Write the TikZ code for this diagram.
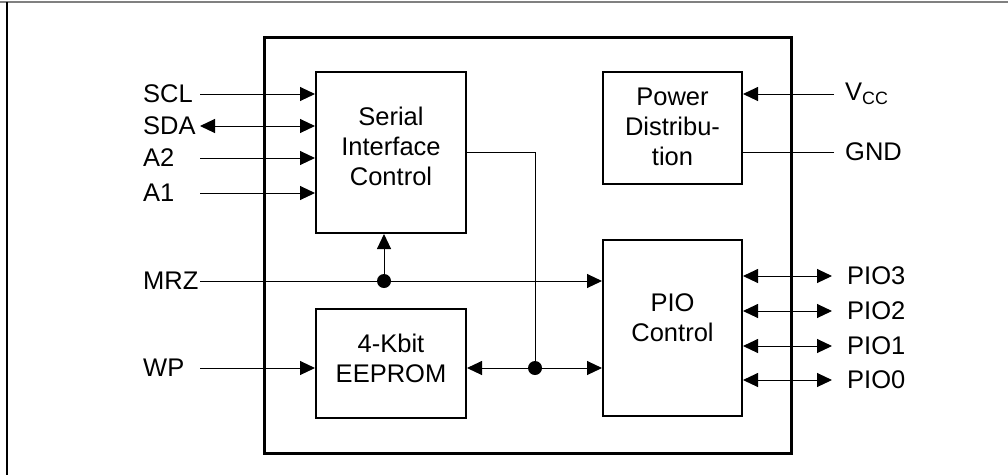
\documentclass[tikz,border=0pt]{standalone}
\usepackage{fontspec}
\setmainfont{Liberation Sans}
\usetikzlibrary{arrows.meta,
                positioning
                }

\begin{document}
\begin{tikzpicture}[x=1pt, y=-1pt,
    font=\fontsize{25.5}{30}\selectfont,
  blk/.style = {draw, line width=2pt, inner sep=0pt},
  txt/.style = {align=center, inner sep=0pt},
  pin/.style = {line width=1pt},
  tip/.style = {-{Triangle[length=15pt, width=14pt]}},
 both/.style = {{Triangle[length=15pt, width=14pt]}-{Triangle[length=15pt, width=14pt]}},
  dot/.style = {circle, fill, inner sep=0pt, minimum size=14pt},
  lbl/.style = {anchor=west, inner sep=0pt}
                    ]
\useasboundingbox (0,0) rectangle (1008,475);
% frame
\draw[gray, line width=1.5pt] (0,2) -- (1008,2);
\draw[line width=2pt] (7,2) -- (7,475);
% chip
\draw[line width=3pt] (264,37) rectangle (791,453);
\node (sic) [blk, minimum width=150pt, minimum height=161pt,
             label={[txt, yshift=6pt]center:Serial\\Interface\\Control}] at (391,152.5) {};
\node (eep) [blk, minimum width=150pt, minimum height=109pt,
             label={[txt, yshift=5pt]center:4-Kbit\\EEPROM}] at (391,363.5) {};
\node (pwr) [blk, minimum width=139pt, minimum height=112pt,
             label={[txt, yshift=1pt]center:Power\\Distribu-\\tion}] at (672.5,128) {};
\node (pio) [blk, minimum width=139pt, minimum height=176pt,
             label={[txt, yshift=10pt]center:PIO\\Control}] at (672.5,328) {};
\node (j1) [dot] at (384,281) {};
\node (j2) [dot] at (535,368) {};
% left pins
\foreach \name/\y in {SCL/94, SDA/126, A2/158, A1/193, MRZ/281, WP/368}
{
  \node (l\name) [lbl] at (143,\y) {\name};
  \coordinate (p\name) at (200,\y);
}
\draw[pin, tip]  (pSCL) -- (pSCL -| sic.west);
\draw[pin, both] (pSDA) -- (pSDA -| sic.west);
\draw[pin, tip]  (pA2)  -- (pA2 -| sic.west);
\draw[pin, tip]  (pA1)  -- (pA1 -| sic.west);
\draw[pin, tip]  (pWP)  -- (pWP -| eep.west);
\draw[pin, tip]  (pMRZ) -- (pMRZ -| pio.west);
\draw[pin, tip]  (j1) -- (j1 |- sic.south);
% internal bus
\draw[pin] (sic.east) -| (j2);
\draw[pin, tip] (j2) -- (j2 -| eep.east);
\draw[pin, tip] (j2) -- (j2 -| pio.west);
% power
\node (vcc) [lbl] at (845,94) {V\textsubscript{CC}};
\node (gnd) [lbl] at (845,152) {GND};
\coordinate (pVCC) at (834,94);
\coordinate (pGND) at (834,152);
\draw[pin, tip] (pVCC) -- (pVCC -| pwr.east);
\draw[pin] (pGND) -- (pGND -| pwr.east);
% PIO pins
\foreach \n/\y in {3/276, 2/311, 1/346, 0/380}
{
  \node (lPIO\n) [lbl] at (847,\y) {PIO\n};
  \coordinate (pPIO\n) at (832,\y);
  \draw[pin, both] (pPIO\n -| pio.east) -- (pPIO\n);
}
\end{tikzpicture}
\end{document}
